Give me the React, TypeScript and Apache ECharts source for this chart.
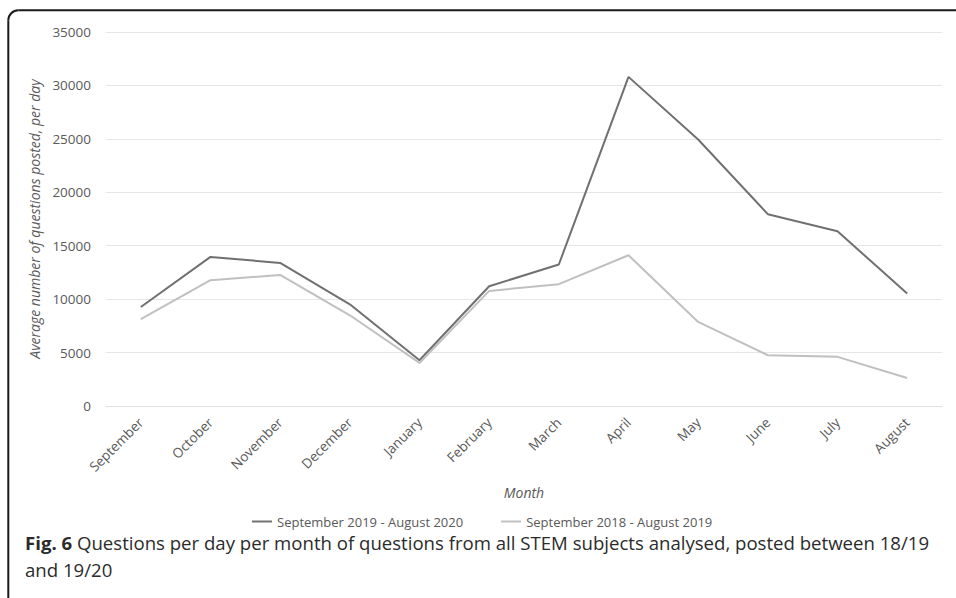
import React, { useEffect, useRef } from "react";
import * as echarts from "echarts";

const months = ["September", "October", "November", "December", "January", "February", "March", "April", "May", "June", "July", "August"];
const series1920 = [9270, 13950, 13390, 9520, 4280, 11210, 13240, 30800, 24940, 17950, 16360, 10520];
const series1819 = [8120, 11770, 12270, 8490, 4030, 10770, 11400, 14110, 7870, 4750, 4600, 2620];
const seriesNames = ["September 2019 - August 2020", "September 2018 - August 2019"];
const yAxisTitle = "Average number of questions posted, per day";
const xAxisTitle = "Month";
const captionBold = "Fig. 6";
const captionLine1 = " Questions per day per month of questions from all STEM subjects analysed, posted between 18/19";
const captionLine2 = "and 19/20";

const FONT = "'Open Sans', sans-serif";

export default function App() {
  const ref = useRef<HTMLDivElement>(null);
  useEffect(() => {
    if (!ref.current) return;
    const chart = echarts.init(ref.current, null, { renderer: "svg" });
    chart.setOption({
      animation: false,
      backgroundColor: "#ffffff",
      textStyle: { fontFamily: FONT },
      grid: { left: 106, right: 14, top: 32, bottom: 192, containLabel: false },
      xAxis: {
        type: "category",
        data: months,
        boundaryGap: true,
        axisLine: { show: true, lineStyle: { color: "#e0e0e0", width: 1 } },
        axisTick: { show: false },
        axisLabel: { rotate: 45, color: "#595959", fontSize: 13.5, margin: 14, fontFamily: FONT },
        name: xAxisTitle,
        nameLocation: "middle",
        nameGap: 79,
        nameTextStyle: { color: "#595959", fontSize: 14, fontStyle: "italic", fontFamily: FONT },
      },
      yAxis: {
        type: "value",
        min: 0,
        max: 35000,
        interval: 5000,
        axisLine: { show: false },
        axisTick: { show: false },
        splitLine: { lineStyle: { color: "#e6e6e6", width: 1 } },
        axisLabel: {
          color: "#595959",
          fontSize: 13.5,
          margin: 15,
          fontFamily: FONT,
          formatter: (v: number) => String(v),
        },
        name: yAxisTitle,
        nameLocation: "middle",
        nameGap: 58,
        nameRotate: 90,
        nameTextStyle: { color: "#595959", fontSize: 14, fontStyle: "italic", fontFamily: FONT },
      },
      legend: {
        left: 252,
        top: 515,
        icon: "rect",
        itemWidth: 20,
        itemHeight: 2,
        itemGap: 38,
        padding: 0,
        textStyle: { color: "#595959", fontSize: 13, lineHeight: 13, fontFamily: FONT },
        data: seriesNames,
      },
      series: [
        {
          name: seriesNames[0],
          type: "line",
          data: series1920,
          symbol: "none",
          lineStyle: { color: "#707070", width: 2 },
          itemStyle: { color: "#707070" },
        },
        {
          name: seriesNames[1],
          type: "line",
          data: series1819,
          symbol: "none",
          lineStyle: { color: "#c0c0c0", width: 2 },
          itemStyle: { color: "#c0c0c0" },
        },
      ],
      graphic: [
        {
          type: "line",
          shape: { x1: 8.3, y1: 20.3, x2: 8.3, y2: 620 },
          style: { stroke: "#1a1a1a", lineWidth: 2 },
          silent: true,
        },
        {
          type: "line",
          shape: { x1: 18.3, y1: 10.3, x2: 980, y2: 10.3 },
          style: { stroke: "#1a1a1a", lineWidth: 2 },
          silent: true,
        },
        {
          type: "arc",
          shape: { cx: 18.3, cy: 20.3, r: 10, startAngle: Math.PI, endAngle: Math.PI * 1.5 },
          style: { stroke: "#1a1a1a", lineWidth: 2, fill: "none" },
          silent: true,
        },
        {
          type: "text",
          style: {
            x: 25,
            y: 542,
            verticalAlign: "middle",
            text: "{b|" + captionBold + "}" + captionLine1,
            font: "18.6px " + FONT,
            fill: "#2b2b2b",
            lineHeight: 16,
            rich: {
              b: { fontWeight: "bold", fontSize: 18.6, fontFamily: FONT, fill: "#2b2b2b", lineHeight: 16 },
            },
          },
        },
        {
          type: "text",
          style: {
            x: 25,
            y: 569,
            verticalAlign: "middle",
            text: captionLine2,
            font: "18.6px " + FONT,
            fill: "#2b2b2b",
            lineHeight: 16,
          },
        },
      ],
    });
    return () => chart.dispose();
  }, []);
  return (
    <div style={{ position: "fixed", left: 0, top: 0, width: 956, height: 598, overflow: "hidden", background: "#fff" }}>
      <div ref={ref} style={{ width: 956, height: 598 }} />
    </div>
  );
}
